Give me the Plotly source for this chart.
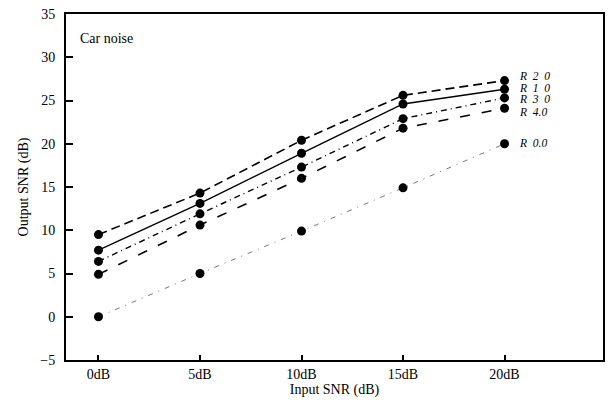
import plotly.graph_objects as go

input_snr = [0, 5, 10, 15, 20]
tick_labels = ["0dB", "5dB", "10dB", "15dB", "20dB"]
series_names = ["R 2 0", "R 1 0", "R 3 0", "R 4.0", "R 0.0"]
r20 = [9.5, 14.3, 20.4, 25.6, 27.3]
r10 = [7.7, 13.1, 18.9, 24.6, 26.3]
r30 = [6.4, 11.9, 17.3, 22.9, 25.3]
r40 = [4.9, 10.6, 16.0, 21.8, 24.1]
r00 = [0.0, 5.0, 9.9, 14.9, 20.0]
label_offsets = [5, 1.7, -1.3, -4, 0.7]

series = [r20, r10, r30, r40, r00]
dashes = ["9px,5px", "solid", "6px,4px,1px,4px", "10px,12px", "5px,6px,1px,6px"]
colors = ["#000", "#000", "#000", "#000", "#777"]
widths = [1.6, 1.4, 1.4, 1.6, 1.0]

fig = go.Figure()
for name, ys, d, c, w in zip(series_names, series, dashes, colors, widths):
    fig.add_trace(go.Scatter(
        x=input_snr, y=ys, mode="lines", name=name,
        line=dict(color=c, width=w, dash=d), showlegend=False))
for name, ys in zip(series_names, series):
    fig.add_trace(go.Scatter(
        x=input_snr, y=ys, mode="markers", name=name,
        marker=dict(color="#000", size=9), showlegend=False))

nb = "\u00a0"
for name, ys, off in zip(series_names, series, label_offsets):
    txt = name.replace(" ", nb + nb)
    fig.add_annotation(x=input_snr[-1], y=ys[-1], text="<i>" + txt + "</i>",
                       showarrow=False, xanchor="left", yanchor="middle",
                       xshift=12, yshift=off,
                       font=dict(family="Liberation Serif", size=11.5, color="#000"))

fig.add_annotation(x=0.022, y=0.93, xref="paper", yref="paper", text="Car noise",
                   showarrow=False, xanchor="left", yanchor="middle",
                   font=dict(family="Liberation Serif", size=14, color="#000"))

# page body has an 8px margin; figure sized/offset so the plot lands where the reference has it
fig.update_layout(
    width=605, height=393,
    margin=dict(l=58, r=10, t=6, b=41),
    paper_bgcolor="white", plot_bgcolor="white",
    font=dict(family="Liberation Serif", size=14, color="#000"),
)
fig.update_xaxes(
    range=[-1.6, 24.85], tickvals=input_snr, ticktext=tick_labels,
    showgrid=False, zeroline=False, showline=True, linecolor="#000", linewidth=2,
    mirror=True, ticks="inside", ticklen=5, tickwidth=2, tickcolor="#000",
    title=dict(text="Input SNR (dB)", standoff=2, font=dict(size=14)),
    tickfont=dict(size=14), automargin=False,
)
fig.update_yaxes(
    range=[-5, 35], tickvals=list(range(-5, 36, 5)),
    showgrid=False, zeroline=False, showline=True, linecolor="#000", linewidth=2,
    mirror=True, ticks="inside", ticklen=7, tickwidth=2, tickcolor="#000",
    ticklabelstandoff=6, ticklabeloverflow="allow",
    title=dict(text="Output SNR (dB)", standoff=8, font=dict(size=14)),
    tickfont=dict(size=14), automargin=False,
)

fig.write_html("out.html")
